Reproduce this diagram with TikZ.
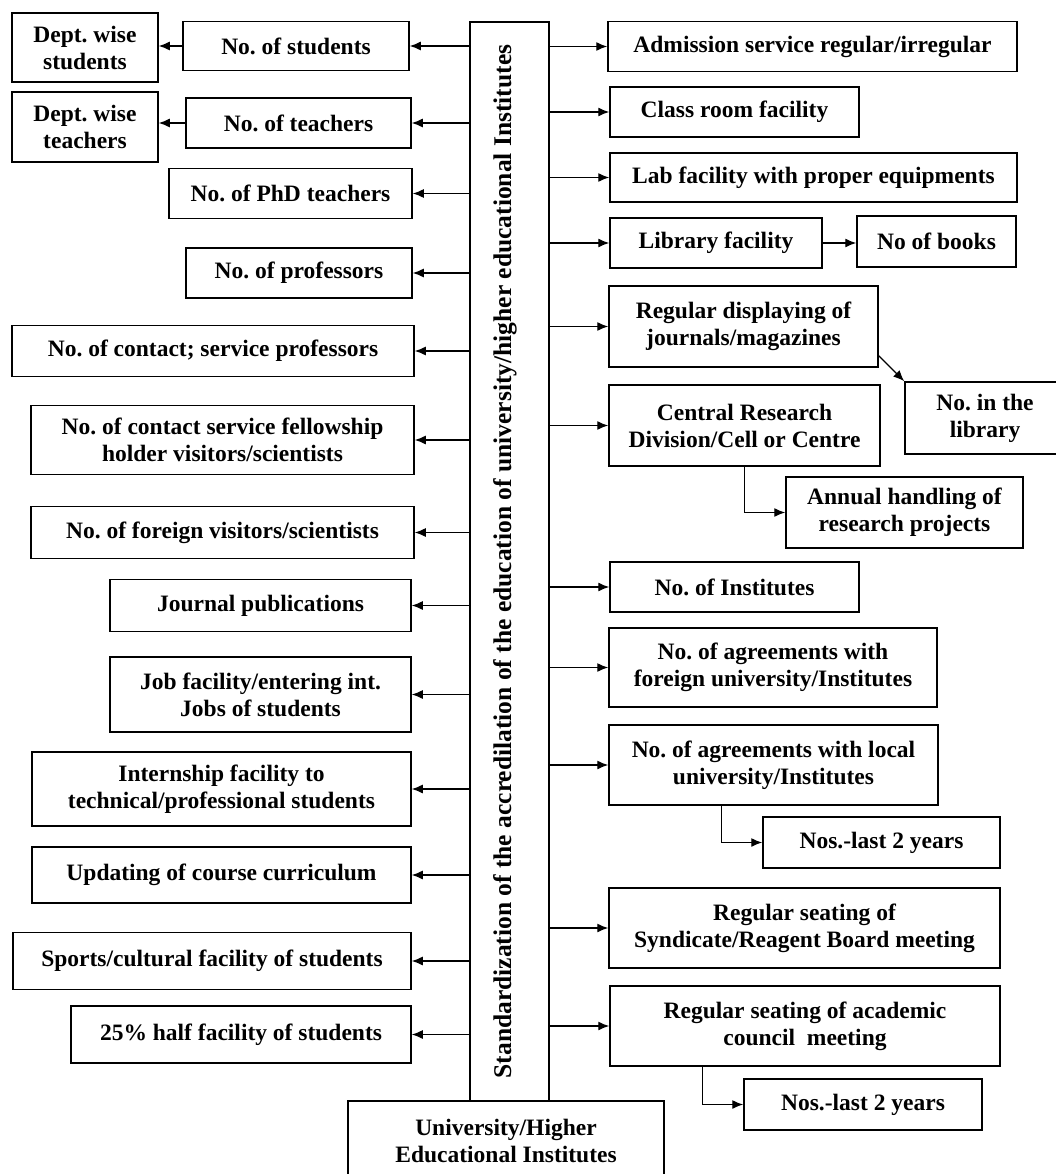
\documentclass[tikz,border=0pt]{standalone}
\usepackage{fontspec}
\setmainfont{Liberation Serif}
\usetikzlibrary{arrows.meta}
\frenchspacing
\begin{document}
\begin{tikzpicture}[x=1pt,y=-1pt,
  box/.style={draw, line width=1.5pt, align=center, inner sep=2pt,
    font=\fontsize{23.5}{27}\selectfont\bfseries},
  arr/.style={line width=1.3pt, -{Latex[length=11pt,width=9pt]}},
  ]
\fill[white] (0,0) rectangle (1056,1174);
\useasboundingbox (0,0) rectangle (1056,1174);

% central column and base
\node[box, minimum width=79pt, minimum height=1079pt] (C) at (509.5,561.5) {};
\node[rotate=90, font=\fontsize{25.5}{28}\selectfont\bfseries] at (505,561.5)
  {Standardization of the accredilation of the education of university/higher educational Institutes};
\node[box, minimum width=316pt, minimum height=80pt] (U) at (506,1141)
  {University/Higher\\Educational Institutes};

% left column
\node[box, minimum width=146pt, minimum height=69pt] (L1) at (85,47.5) {Dept. wise\\students};
\node[box, minimum width=226pt, minimum height=49pt] (L2) at (296,46) {No. of students};
\node[box, minimum width=146pt, minimum height=70pt] (L3) at (85,127) {Dept. wise\\teachers};
\node[box, minimum width=225pt, minimum height=50pt] (L4) at (298.5,123) {No. of teachers};
\node[box, minimum width=243pt, minimum height=50pt] (L5) at (290.5,193.5) {No. of PhD teachers};
\node[box, minimum width=226pt, minimum height=50pt] (L6) at (299,273) {No. of professors};
\node[box, minimum width=402pt, minimum height=51pt] (L7) at (213,351) {No. of contact; service professors};
\node[box, minimum width=383pt, minimum height=69pt] (L8) at (222.5,440) {No. of contact service fellowship\\holder visitors/scientists};
\node[box, minimum width=383pt, minimum height=52pt] (L9) at (222.5,532.5) {No. of foreign visitors/scientists};
\node[box, minimum width=301pt, minimum height=52pt] (L10) at (260.5,605.5) {Journal publications};
\node[box, minimum width=301pt, minimum height=75pt] (L11) at (260.5,694.5) {Job facility/entering int.\\Jobs of students};
\node[box, minimum width=379pt, minimum height=74pt] (L12) at (221.5,789) {Internship facility to\\technical/professional students};
\node[box, minimum width=379pt, minimum height=56pt] (L13) at (221.5,875) {Updating of course curriculum};
\node[box, minimum width=398pt, minimum height=57pt] (L14) at (212,961) {Sports/cultural facility of students};
\node[box, minimum width=340pt, minimum height=57pt] (L15) at (241,1034.5) {25\% half facility of students};

% right column
\node[box, minimum width=409pt, minimum height=50pt] (R1) at (812.5,46.5) {Admission service regular/irregular};
\node[box, minimum width=249pt, minimum height=50pt] (R2) at (734.5,112) {Class room facility};
\node[box, minimum width=407pt, minimum height=49pt] (R3) at (813.5,177.5) {Lab facility with proper equipments};
\node[box, minimum width=212pt, minimum height=50pt] (R4) at (716,243) {Library facility};
\node[box, minimum width=159pt, minimum height=51pt] (R5) at (936.5,241.5) {No of books};
\node[box, minimum width=269pt, minimum height=81pt] (R6) at (743.5,326.5) {Regular displaying of\\journals/magazines};
\node[box, minimum width=160pt, minimum height=72pt] (R7) at (985,418) {No. in the\\library};
\node[box, minimum width=271pt, minimum height=81pt] (R8) at (744.5,425.5) {Central Research\\Division/Cell or Centre};
\node[box, minimum width=237pt, minimum height=71pt] (R9) at (904.5,512.5) {Annual handling of\\research projects};
\node[box, minimum width=249pt, minimum height=50pt] (R10) at (734.5,587) {No. of Institutes};
\node[box, minimum width=328pt, minimum height=79pt] (R11) at (773,667.5) {No. of agreements with\\foreign university/Institutes};
\node[box, minimum width=329pt, minimum height=80pt] (R12) at (773.5,765) {No. of agreements with local\\university/Institutes};
\node[box, minimum width=237pt, minimum height=51pt] (R13) at (881.5,842.5) {Nos.-last 2 years};
\node[box, minimum width=391pt, minimum height=80pt] (R14) at (804.5,928) {Regular seating of\\Syndicate/Reagent Board meeting};
\node[box, minimum width=390pt, minimum height=80pt] (R15) at (805,1026) {Regular seating of academic\\council~ meeting};
\node[box, minimum width=238pt, minimum height=51pt] (R16) at (863,1104.5) {Nos.-last 2 years};

% connectors from the central column
\foreach \n in {L2,L4,L5,L6,L7,L8,L9,L10,L11,L12,L13,L14,L15}
  \draw[arr] (C.west |- \n.east) -- (\n.east);
\foreach \n in {R1,R2,R3,R4,R6,R8,R10,R11,R12,R14,R15}
  \draw[arr] (C.east |- \n.west) -- (\n.west);

% secondary connectors
\draw[arr] (L2.west) -- (L2.west -| L1.east);
\draw[arr] (L4.west) -- (L4.west -| L3.east);
\draw[arr] (R4.east) -- (R4.east -| R5.west);
\draw[arr] ([yshift=12pt]R6.south east) -- (R7.north west);
\draw[arr] ([xshift=136pt]R8.south west) |- (R9.west);
\draw[arr] ([xshift=113pt]R12.south west) |- (R13.west);
\draw[arr] ([xshift=93pt]R15.south west) |- (R16.west);
\end{tikzpicture}
\end{document}
